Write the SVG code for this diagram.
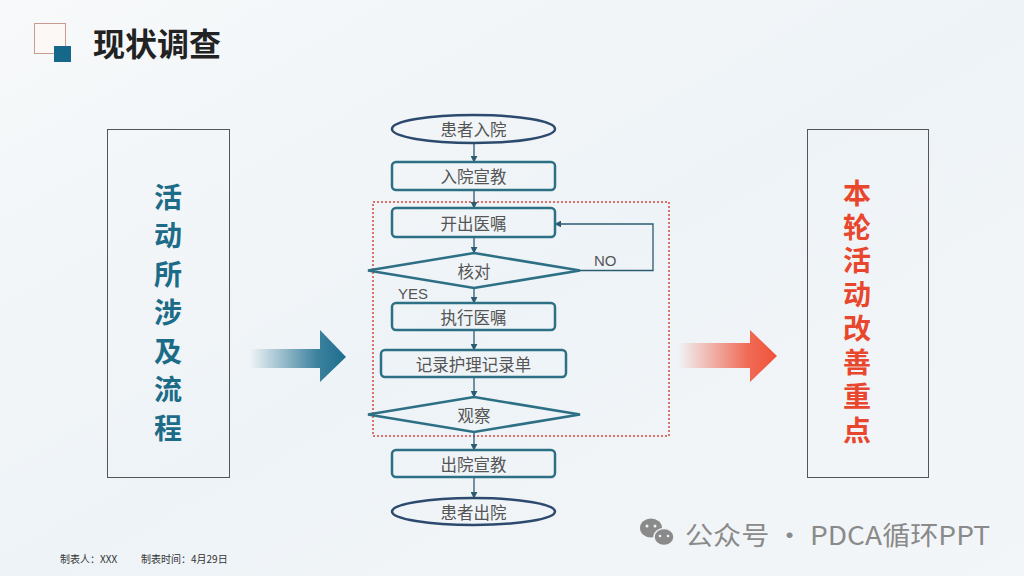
<svg xmlns="http://www.w3.org/2000/svg" width="1024" height="576" viewBox="0 0 1024 576">
<defs>
<linearGradient id="bg" x1="0" y1="0" x2="1" y2="1">
<stop offset="0" stop-color="#f7f9fa"/>
<stop offset="0.5" stop-color="#eef3f7"/>
<stop offset="1" stop-color="#f3f6f8"/>
</linearGradient>
<linearGradient id="gBlue" x1="0" y1="0" x2="1" y2="0">
<stop offset="0" stop-color="#1d6e8e" stop-opacity="0"/>
<stop offset="0.7" stop-color="#1d6e8e" stop-opacity="0.85"/>
<stop offset="1" stop-color="#1d6e8e"/>
</linearGradient>
<linearGradient id="gRed" x1="0" y1="0" x2="1" y2="0">
<stop offset="0" stop-color="#f0533a" stop-opacity="0"/>
<stop offset="0.7" stop-color="#f0533a" stop-opacity="0.85"/>
<stop offset="1" stop-color="#f0533a"/>
</linearGradient>
<marker id="arr" viewBox="0 0 10 10" refX="9" refY="5" markerWidth="7" markerHeight="7" markerUnits="userSpaceOnUse" orient="auto">
<path d="M0,0 L10,5 L0,10 z" fill="#2a5b70"/>
</marker>
<style>
.box{fill:none;stroke:#2d6f84;stroke-width:2.5}
.ell{fill:none;stroke:#2c4a6e;stroke-width:2.5}
.lbl{font-family:"Noto Sans CJK SC","Noto Sans",sans-serif;font-size:16.5px;fill:#555;text-anchor:middle;dominant-baseline:central}
.en{font-family:"Liberation Sans",Arial,sans-serif;font-size:15px;fill:#555}
.con{fill:none;stroke:#2a5b70;stroke-width:1.3}
.vt{font-family:"Noto Sans CJK SC",sans-serif;font-size:28px;font-weight:bold;writing-mode:vertical-rl;text-orientation:upright}
.ft{font-family:"Noto Sans CJK SC",sans-serif;font-size:10px;fill:#333}
</style>
</defs>
<rect width="1024" height="576" fill="url(#bg)"/>

<g id="title">
<rect x="34.5" y="23.5" width="31" height="30" fill="#fbf8f6" stroke="#c89a90" stroke-width="1"/>
<rect x="54" y="46" width="17" height="16" fill="#16688a"/>
<text x="93" y="56" font-family="Noto Sans CJK SC,sans-serif" font-size="32" font-weight="bold" fill="#222">现状调查</text>
</g>

<g id="left-box">
<rect x="107.5" y="129.5" width="122" height="348" fill="none" stroke="#555" stroke-width="1"/>
<text class="vt" fill="#1c6c88" x="168" y="183" letter-spacing="10.5">活动所涉及流程</text>
</g>

<g id="left-arrow">
<path d="M250,349 L320,349 L320,330 L346,357 L320,382 L320,368 L250,368 z" fill="url(#gBlue)"/>
</g>

<g id="right-box">
<rect x="807.5" y="129.5" width="121" height="348" fill="none" stroke="#555" stroke-width="1"/>
<text class="vt" fill="#e8472e" x="857" y="179" letter-spacing="5.9">本轮活动改善重点</text>
</g>

<g id="right-arrow">
<path d="M678,343 L750,343 L750,330 L777,356 L750,382 L750,368 L678,368 z" fill="url(#gRed)"/>
</g>

<g id="group-box">
<rect x="373" y="202" width="296" height="234" fill="none" stroke="#d9463c" stroke-width="1.5" stroke-dasharray="2 2"/>
</g>

<g id="connectors">
<line class="con" x1="474" y1="143" x2="474" y2="162" marker-end="url(#arr)"/>
<line class="con" x1="474" y1="190" x2="474" y2="208" marker-end="url(#arr)"/>
<line class="con" x1="474" y1="237" x2="474" y2="253" marker-end="url(#arr)"/>
<line class="con" x1="474" y1="288" x2="474" y2="303" marker-end="url(#arr)"/>
<line class="con" x1="474" y1="330" x2="474" y2="350" marker-end="url(#arr)"/>
<line class="con" x1="474" y1="377" x2="474" y2="397" marker-end="url(#arr)"/>
<line class="con" x1="474" y1="432" x2="474" y2="450" marker-end="url(#arr)"/>
<line class="con" x1="474" y1="477" x2="474" y2="498" marker-end="url(#arr)"/>
<polyline class="con" points="580,270.5 653,270.5 653,224 555,224" marker-end="url(#arr)"/>
<text class="en" x="594" y="266">NO</text>
<text class="en" x="398" y="299">YES</text>
</g>

<g id="n-admit">
<ellipse class="ell" cx="473.5" cy="129" rx="81.5" ry="14"/>
<text class="lbl" x="473.5" y="129">患者入院</text>
</g>
<g id="n-edu-in">
<rect class="box" x="392" y="162" width="163" height="28" rx="4"/>
<text class="lbl" x="473.5" y="176">入院宣教</text>
</g>
<g id="n-order">
<rect class="box" x="392" y="208" width="163" height="29" rx="4"/>
<text class="lbl" x="473.5" y="222.5">开出医嘱</text>
</g>
<g id="n-check">
<polygon class="box" points="474,253 580,270.5 474,288 368,270.5"/>
<text class="lbl" x="474" y="271">核对</text>
</g>
<g id="n-exec">
<rect class="box" x="392" y="303" width="163" height="27" rx="4"/>
<text class="lbl" x="473.5" y="316.5">执行医嘱</text>
</g>
<g id="n-record">
<rect class="box" x="381" y="350" width="185" height="27" rx="4"/>
<text class="lbl" x="473.5" y="363.5">记录护理记录单</text>
</g>
<g id="n-observe">
<polygon class="box" points="474,397 580,414.5 474,432 368,414.5"/>
<text class="lbl" x="474" y="415">观察</text>
</g>
<g id="n-edu-out">
<rect class="box" x="392" y="450" width="163" height="27" rx="4"/>
<text class="lbl" x="473.5" y="463.5">出院宣教</text>
</g>
<g id="n-discharge">
<ellipse class="ell" cx="473.5" cy="511.5" rx="81.5" ry="13.5"/>
<text class="lbl" x="473.5" y="511.5">患者出院</text>
</g>

<g id="footer">
<text class="ft" x="60" y="563">制表人：XXX</text>
<text class="ft" x="141" y="563">制表时间：4月29日</text>
</g>

<g id="wechat">
<ellipse cx="651" cy="528" rx="11" ry="9.5" fill="#8a8a8a"/>
<ellipse cx="664" cy="537" rx="10" ry="8.5" fill="#8a8a8a" stroke="#f0f3f6" stroke-width="1.5"/>
<circle cx="647" cy="526" r="1.5" fill="#f0f3f6"/>
<circle cx="655" cy="526" r="1.5" fill="#f0f3f6"/>
<circle cx="660" cy="536" r="1.3" fill="#f0f3f6"/>
<circle cx="668" cy="536" r="1.3" fill="#f0f3f6"/>
<text x="685" y="545" font-family="Noto Sans CJK SC,sans-serif" font-size="26" fill="#8a8a8a" textLength="305" lengthAdjust="spacingAndGlyphs">公众号 · PDCA循环PPT</text>
</g>
</svg>
